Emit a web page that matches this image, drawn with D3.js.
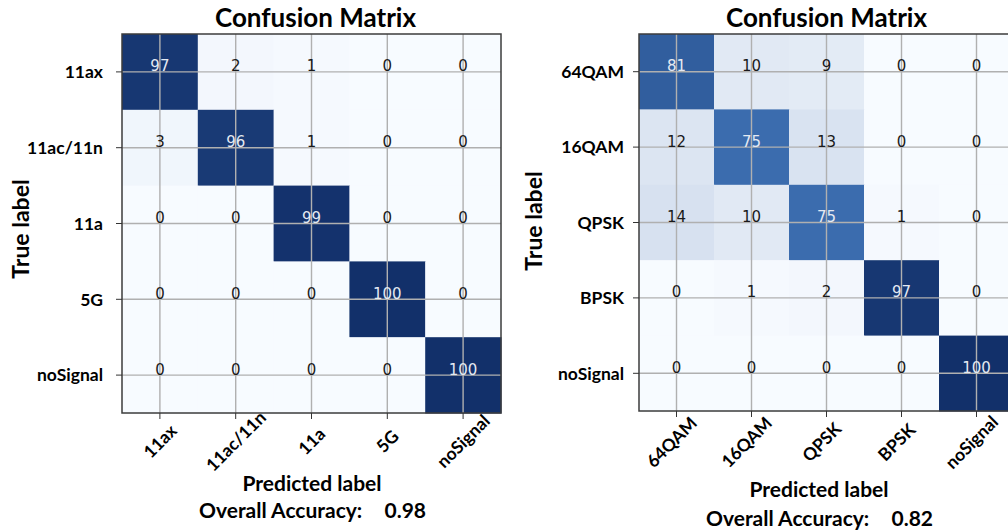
<!DOCTYPE html>
<html>
<head>
<meta charset="utf-8">
<script src="https://cdn.jsdelivr.net/npm/d3@7"></script>
<style>
  html, body { margin: 0; padding: 0; background: #ffffff; }
  svg { display: block; }
  .lbl { font-family: Lato, "Open Sans", sans-serif; font-weight: 700; fill: #000; }
  .cellnum { font-family: "DejaVu Sans", sans-serif; font-size: 15px; }
</style>
</head>
<body>
<svg id="chart" width="1008" height="531"></svg>
<script>
// ---- data ---------------------------------------------------------------
const wifiClasses = ["11ax", "11ac/11n", "11a", "5G", "noSignal"];
const wifiMatrix = [
  [97, 2, 1, 0, 0],
  [3, 96, 1, 0, 0],
  [0, 0, 99, 0, 0],
  [0, 0, 0, 100, 0],
  [0, 0, 0, 0, 100]
];
const wifiAccuracy = "0.98";

const modClasses = ["64QAM", "16QAM", "QPSK", "BPSK", "noSignal"];
const modMatrix = [
  [81, 10, 9, 0, 0],
  [12, 75, 13, 0, 0],
  [14, 10, 75, 1, 0],
  [0, 1, 2, 97, 0],
  [0, 0, 0, 0, 100]
];
const modAccuracy = "0.82";

const titleText = "Confusion Matrix";
const xAxisTitle = "Predicted label";
const yAxisTitle = "True label";
const accuracyTitle = "Overall Accuracy:";

// ---- colour map (light to dark blue) -------------------------------------
const color = d3.scaleLinear()
  .domain([0, 12, 75, 100])
  .range(["#f7fbff", "#dce5f2", "#3b6cae", "#12306a"])
  .interpolate(d3.interpolateRgb)
  .clamp(true);

const svg = d3.select("#chart");

function drawPanel(cfg) {
  const n = cfg.classes.length;
  const idx = d3.range(n);
  const x = d3.scaleBand().domain(idx).range([cfg.x0, cfg.x1]);
  const y = d3.scaleBand().domain(idx).range([cfg.y0, cfg.y1]);
  const g = svg.append("g");

  const cells = [];
  cfg.matrix.forEach((row, r) => row.forEach((v, c) => cells.push({ r, c, v })));

  // heat-map cells
  g.append("g").selectAll("rect").data(cells).join("rect")
    .attr("x", d => x(d.c))
    .attr("y", d => y(d.r))
    .attr("width", x.bandwidth() + 0.5)
    .attr("height", y.bandwidth() + 0.5)
    .attr("fill", d => color(d.v));

  // grid lines through the cell centres
  const grid = g.append("g").attr("stroke", "#b0b0b0").attr("stroke-width", 1.4);
  grid.selectAll("line.v").data(idx).join("line").attr("class", "v")
    .attr("x1", d => x(d) + x.bandwidth() / 2).attr("x2", d => x(d) + x.bandwidth() / 2)
    .attr("y1", cfg.y0).attr("y2", cfg.y1);
  grid.selectAll("line.h").data(idx).join("line").attr("class", "h")
    .attr("y1", d => y(d) + y.bandwidth() / 2).attr("y2", d => y(d) + y.bandwidth() / 2)
    .attr("x1", cfg.x0).attr("x2", cfg.x1);

  // cell values
  g.append("g").selectAll("text").data(cells).join("text")
    .attr("class", "cellnum")
    .attr("x", d => x(d.c) + x.bandwidth() / 2)
    .attr("y", d => y(d.r) + y.bandwidth() / 2 - 0.5)
    .attr("text-anchor", "middle")
    .attr("fill", d => d.v > 50 ? "#e4e9f2" : "#1a1a1a")
    .text(d => d.v);

  // frame
  g.append("rect")
    .attr("x", cfg.x0).attr("y", cfg.y0)
    .attr("width", cfg.x1 - cfg.x0).attr("height", cfg.y1 - cfg.y0)
    .attr("fill", "none").attr("stroke", "#3c3c3c").attr("stroke-width", 1.5);

  // y axis (true label)
  const yAxis = g.append("g")
    .attr("transform", `translate(${cfg.x0},0)`)
    .call(d3.axisLeft(y).tickSize(6).tickPadding(cfg.yPad).tickFormat(i => cfg.classes[i]));
  yAxis.select(".domain").remove();
  yAxis.selectAll(".tick line").attr("stroke", "#333");
  yAxis.selectAll(".tick text")
    .attr("class", "lbl").style("font-size", "17.5px")
    .attr("font-family", null).attr("font-size", null)
    .attr("dy", "0.36em");

  // x axis (predicted label), labels tilted 45 degrees
  const xAxis = g.append("g")
    .attr("transform", `translate(0,${cfg.y1})`)
    .call(d3.axisBottom(x).tickSize(6).tickFormat(i => cfg.classes[i]));
  xAxis.select(".domain").remove();
  xAxis.selectAll(".tick line").attr("stroke", "#333");
  xAxis.selectAll(".tick text")
    .attr("class", "lbl").style("font-size", "17.5px")
    .attr("font-family", null).attr("font-size", null)
    .attr("text-anchor", "middle")
    .attr("dominant-baseline", "central")
    .attr("dy", null)
    .attr("y", 0)
    .attr("transform", `translate(${cfg.xLabelDx},${cfg.xLabelCy - cfg.y1}) rotate(-45)`);

  // titles
  const cx = (cfg.x0 + cfg.x1) / 2;
  g.append("text").attr("class", "lbl").style("font-size", "26px")
    .attr("x", cx + cfg.titleDx).attr("y", 27).attr("text-anchor", "middle")
    .text(titleText);

  g.append("text").attr("class", "lbl").style("font-size", "23px")
    .attr("transform", `translate(${cfg.yTitleX},${cfg.yTitleY}) rotate(-90)`)
    .attr("text-anchor", "middle").attr("dy", "0.35em")
    .text(yAxisTitle);

  g.append("text").attr("class", "lbl").style("font-size", "21px")
    .attr("x", cfg.xTitleX).attr("y", cfg.xTitleY).attr("text-anchor", "middle")
    .text(xAxisTitle);

  g.append("text").attr("class", "lbl").style("font-size", "21px")
    .attr("x", cfg.accX).attr("y", cfg.accY).attr("text-anchor", "start")
    .text(accuracyTitle);
  g.append("text").attr("class", "lbl").style("font-size", "21px")
    .attr("x", cfg.accValX).attr("y", cfg.accY).attr("text-anchor", "end")
    .text(cfg.accuracy);
}

drawPanel({
  classes: wifiClasses, matrix: wifiMatrix, accuracy: wifiAccuracy,
  x0: 122, x1: 501, y0: 34, y1: 413,
  yPad: 13, xLabelDx: 0, xLabelCy: 441, titleDx: 4,
  yTitleX: 21, yTitleY: 229,
  xTitleX: 312, xTitleY: 491,
  accX: 199, accValX: 426, accY: 518
});

drawPanel({
  classes: modClasses, matrix: modMatrix, accuracy: modAccuracy,
  x0: 639, x1: 1014, y0: 34, y1: 411,
  yPad: 9, xLabelDx: -5, xLabelCy: 442, titleDx: 0,
  yTitleX: 534, yTitleY: 221,
  xTitleX: 819, xTitleY: 497,
  accX: 706, accValX: 933, accY: 526
});
</script>
</body>
</html>
